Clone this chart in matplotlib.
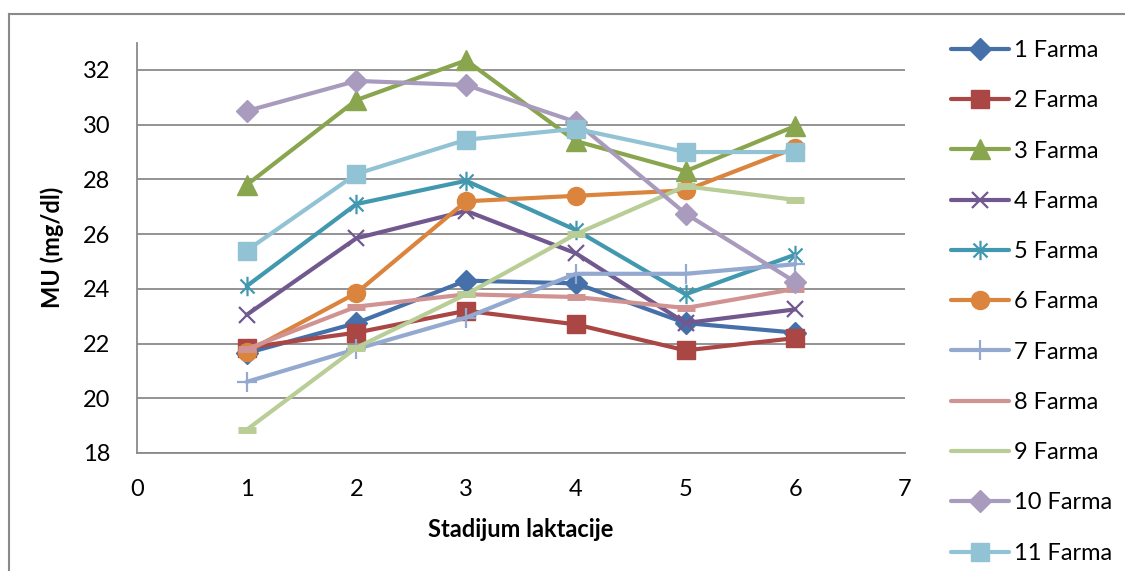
import matplotlib
matplotlib.use("Agg")
import matplotlib.pyplot as plt
from matplotlib.path import Path
from matplotlib.lines import Line2D

plt.rcParams['font.family'] = ['Lato', 'DejaVu Sans']

stages = [1, 2, 3, 4, 5, 6]
labels = ["1 Farma", "2 Farma", "3 Farma", "4 Farma", "5 Farma", "6 Farma",
          "7 Farma", "8 Farma", "9 Farma", "10 Farma", "11 Farma"]
farm1 = [21.65, 22.75, 24.3, 24.2, 22.75, 22.4]
farm2 = [21.85, 22.4, 23.2, 22.7, 21.75, 22.2]
farm3 = [27.8, 30.9, 32.35, 29.4, 28.3, 29.95]
farm4 = [23.05, 25.85, 26.85, 25.3, 22.75, 23.25]
farm5 = [24.1, 27.1, 27.95, 26.15, 23.8, 25.25]
farm6 = [21.7, 23.85, 27.2, 27.4, 27.6, 29.15]
farm7 = [20.6, 21.8, 22.95, 24.55, 24.55, 24.9]
farm8 = [21.8, 23.35, 23.8, 23.7, 23.3, 24.0]
farm9 = [18.85, 21.85, 23.8, 26.0, 27.75, 27.25]
farm10 = [30.5, 31.6, 31.45, 30.1, 26.75, 24.25]
farm11 = [25.4, 28.2, 29.45, 29.85, 29.0, 29.0]
series = [farm1, farm2, farm3, farm4, farm5, farm6, farm7, farm8, farm9, farm10, farm11]

colors = ['#4570A9', '#AA4643', '#89A54E', '#71588F', '#4198AF', '#DB843D',
          '#93A9CF', '#D19392', '#B9CD96', '#A99BBD', '#92C3D4']

asterisk = Path([(0, -1), (0, 1), (-0.72, -0.72), (0.72, 0.72), (-0.72, 0.72), (0.72, -0.72)],
                [Path.MOVETO, Path.LINETO, Path.MOVETO, Path.LINETO, Path.MOVETO, Path.LINETO])
styles = [
    dict(marker='D', ms=11),
    dict(marker='s', ms=13),
    dict(marker='^', ms=14),
    dict(marker='x', ms=12, mew=1.6),
    dict(marker=asterisk, ms=14, mew=1.6),
    dict(marker='o', ms=13),
    dict(marker='+', ms=14, mew=1.6),
    dict(marker='_', ms=13, mew=5),
    dict(marker='_', ms=13, mew=5),
    dict(marker='D', ms=11),
    dict(marker='s', ms=13),
]

fig = plt.figure(figsize=(11.25, 5.71), dpi=100)
ax = fig.add_axes([137/1125, 1 - 453/571, (905-137)/1125, (453-42.6)/571])

for vals, lab, c, st in zip(series, labels, colors, styles):
    ax.plot(stages, vals, color=c, lw=3, label=lab, mec=c, mfc=c,
            solid_joinstyle='round', solid_capstyle='round', **st)

ax.set_xlim(0, 7)
ax.set_ylim(18, 33)
ax.set_xticks(range(0, 8))
ax.set_yticks(range(18, 33, 2))
ax.yaxis.grid(True, color='#8a8a8a', lw=1.3)
ax.set_axisbelow(True)
for s in ['top', 'right']:
    ax.spines[s].set_visible(False)
for s in ['left', 'bottom']:
    ax.spines[s].set_color('#8a8a8a')
    ax.spines[s].set_linewidth(1.3)
ax.tick_params(axis='both', length=0, labelsize=17, colors='black')
ax.tick_params(axis='y', pad=19)
ax.tick_params(axis='x', pad=19)

ax.set_xlabel('Stadijum laktacije', fontsize=17, fontweight='bold', labelpad=13)
ax.set_ylabel('MU (mg/dl)', fontsize=17, fontweight='bold', labelpad=14)

leg = fig.legend(loc='upper left', bbox_to_anchor=(951/1125, 1 - 40/571),
                 frameon=False, fontsize=17, handlelength=2.45, handletextpad=0.2,
                 labelspacing=1.24, borderpad=0, borderaxespad=0)
for i in (7, 8):
    leg.legend_handles[i].set_marker('None')

# outer chart frame
fig.add_artist(Line2D([9/1125, 1], [1 - 13.5/571, 1 - 13.5/571], color='#8a8a8a', lw=1.5,
                      transform=fig.transFigure))
fig.add_artist(Line2D([9/1125, 9/1125], [0, 1 - 13.5/571], color='#8a8a8a', lw=1.5,
                      transform=fig.transFigure))

fig.savefig('out.png', dpi=100)
